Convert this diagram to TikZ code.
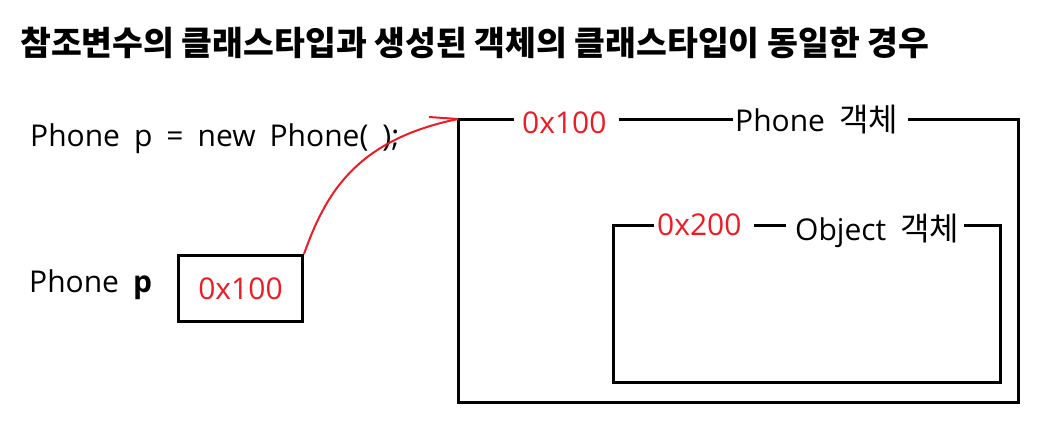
\documentclass[tikz,border=0pt]{standalone}
\usepackage{fontspec}
\setmainfont{Open Sans}[WordSpace=1.8]
\newfontfamily\kr{Noto Sans CJK KR}
\definecolor{redA}{RGB}{237,28,36}
\begin{document}
\begin{tikzpicture}[x=1pt,y=-1pt,
  lbl/.style={inner sep=0pt, anchor=base west, font=\fontsize{30}{36}\selectfont},
  addr/.style={lbl, text=redA},
  frame/.style={line width=3pt, black},
  ptr/.style={redA, line width=2pt}]
\useasboundingbox (0,0) rectangle (1037,424);
\node[inner sep=0pt, anchor=base west, font=\kr\bfseries\fontsize{33.5}{38}\selectfont] (title) at (20,55) {참조변수의 클래스타입과 생성된 객체의 클래스타입이 동일한 경우};
\node[lbl] (code) at (30,146) {Phone p = new Phone( );};
\node[lbl] (ptype) at (29,292) {Phone \textbf{p}};
\node[draw, frame, minimum width=124pt, minimum height=66pt, anchor=north west, inner sep=0pt, text=redA, font=\fontsize{30}{36}\selectfont] (pbox) at (177,254) {0x100};
% outer object frame
\coordinate (otl) at (458,119);
\coordinate (otr) at (1018,119);
\coordinate (obr) at (1018,402);
\coordinate (obl) at (458,402);
\node[addr] (a1) at (522,133) {0x100};
\node[lbl] (phoneobj) at (735,131) {Phone {\kr\fontsize{32}{36}\selectfont 객체}};
\draw[frame] ([xshift=-8pt]a1.west |- otl) -- (otl) -- (obl) -- (obr) -- (otr) -- ([xshift=10pt]phoneobj.east |- otr);
\draw[frame] ([xshift=12pt]a1.east |- otl) -- ([xshift=-2pt]phoneobj.west |- otl);
% inner object frame
\coordinate (itl) at (613,225);
\coordinate (itr) at (1000,225);
\coordinate (ibr) at (1000,382);
\coordinate (ibl) at (613,382);
\node[addr] (a2) at (657,235) {0x200};
\node[lbl] (objobj) at (795,240) {Object {\kr\fontsize{32}{36}\selectfont 객체}};
\draw[frame] ([xshift=-3pt]a2.west |- itl) -- (itl) -- (ibl) -- (ibr) -- (itr) -- ([xshift=5pt]objobj.east |- itr);
\draw[frame] ([xshift=12pt]a2.east |- itl) -- ([xshift=-9pt]objobj.west |- itl);
% pointer
\coordinate (barb) at (429,117);
\draw[ptr] (pbox.north east) .. controls (325,195) and (355,140) .. (otl);
\draw[ptr] (barb) -- (otl);
\end{tikzpicture}
\end{document}
